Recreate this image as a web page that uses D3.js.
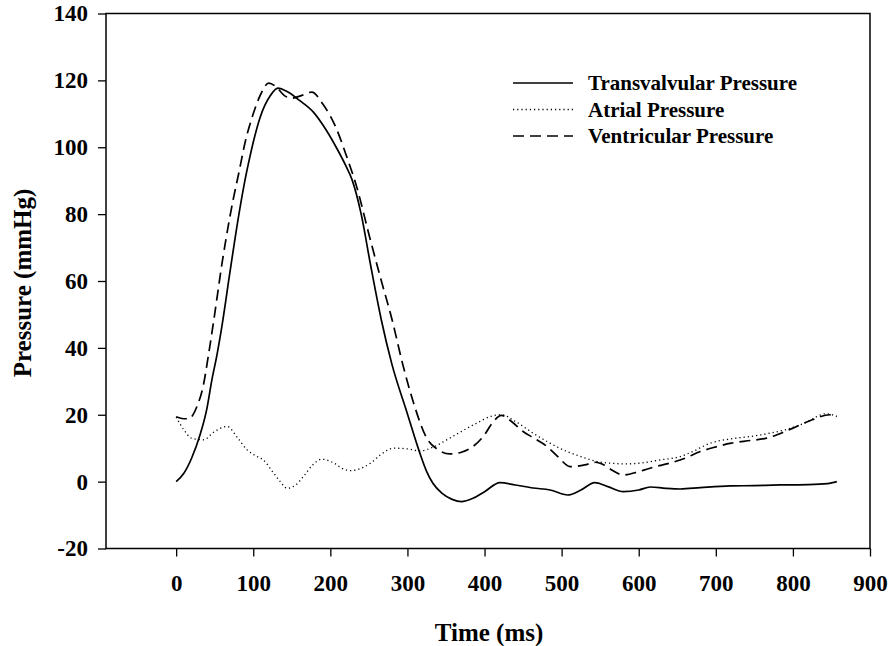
<!DOCTYPE html>
<html><head><meta charset="utf-8">
<script src="https://cdn.jsdelivr.net/npm/d3@7"></script>
<style>body{margin:0;background:#fff}svg{display:block}text{font-family:"Liberation Serif","Times New Roman",serif;font-weight:bold;fill:#000}</style>
</head><body><svg id="c" width="892" height="646"></svg>
<script>
// ---- data (time in ms, pressure in mmHg) ----
const transT = [0,10,20,31,40,46,53,59,70,80,90,96,100,109,122,132,145,160,178,195,209,220,228,240,252,266,280,299,316,325,333,345,358,370,385,400,420,440,463,485,508,525,543,560,580,600,615,635,654,680,718,750,783,820,845,857];
const transV = [0,2.5,7,14,22,30,38,46,63,78,91,97.5,101.5,109,115.4,117.7,116.5,114,110.5,105,99.4,94.5,90.4,80,65,48.5,35,21,8.6,3,-0.5,-3.5,-5.3,-6,-5,-3,-0.3,-1,-1.9,-2.5,-4,-2.5,-0.3,-1.5,-3,-2.5,-1.6,-2,-2.2,-1.8,-1.3,-1.2,-1,-0.9,-0.6,0];
const atrialT = [0,10,20,35,50,66,80,92,105,113,125,135,144,155,165,177,189,205,215,226,240,252,265,282,300,316,335,351,370,390,408,422,440,463,485,507,525,546,565,580,600,628,654,670,693,720,745,766,790,815,843,857];
const atrialV = [19.3,15.5,13,12.5,15,16.5,13,9.5,7.5,6.5,3,0,-2,-1,1.5,5,6.7,5.5,4,3.3,4,5.5,8,10,9.8,9.2,10.5,12.5,15,17.5,19.5,20,18,14.5,11.5,9,7.5,6,5.5,5.3,5.5,6.5,7.5,9,11.5,12.8,13.5,14.3,15.5,17.5,20.3,19.5];
const ventT = [0,10,16,27,35,42,48,60,74,81,90,100,110,120,130,140,150,163,176,190,208,220,235,250,265,280,294,308,325,340,355,370,385,400,410,422,435,450,464,481,495,511,530,544,555,565,580,600,619,640,660,680,697,720,745,766,790,805,825,848,857];
const ventV = [19.4,18.8,18.8,22.5,28.5,38,47,66,84.4,92,102,110,116,119.2,118,115.5,114.7,115.5,116.5,113,105.5,98,87.5,74,61,48.5,35,23.5,13,9.5,8.3,8.8,10.5,14,17.5,19.8,18,15,13,10.5,7.5,4.5,5,5.8,5,3.5,2,3,4.3,5.5,7,9,10.2,11.5,12.3,13,15,16.5,18.5,20,19.5];
const xTicks = [0,100,200,300,400,500,600,700,800,900];
const yTicks = [-20,0,20,40,60,80,100,120,140];
const seriesNames = ["Transvalvular Pressure","Atrial Pressure","Ventricular Pressure"];

// ---- layout ----
const svg = d3.select("#c");
const x = d3.scaleLinear().domain([-91, 900]).range([106, 870]);
const y = d3.scaleLinear().domain([-20, 140]).range([548.5, 13.5]);

const styles = [
  {dash: null},
  {dash: "1.2,3"},
  {dash: "11,6"}
];
const series = [
  {t: transT, v: transV},
  {t: atrialT, v: atrialV},
  {t: ventT, v: ventV}
];

// frame
svg.append("rect").attr("x", x(-91)).attr("y", y(140))
  .attr("width", x(900) - x(-91)).attr("height", y(-20) - y(140))
  .attr("fill", "none").attr("stroke", "#000").attr("stroke-width", 1.5);

// axes
const fmt = d => String(d);
const xAxis = svg.append("g").attr("transform", `translate(0,${y(-20)})`)
  .call(d3.axisBottom(x).tickValues(xTicks).tickSize(8).tickPadding(18).tickFormat(fmt));
const yAxis = svg.append("g").attr("transform", `translate(${x(-91)},0)`)
  .call(d3.axisLeft(y).tickValues(yTicks).tickSize(8).tickPadding(10).tickFormat(fmt));
[xAxis, yAxis].forEach(g => {
  g.select(".domain").remove();
  g.selectAll(".tick line").attr("stroke", "#000").attr("stroke-width", 1.3);
  g.selectAll(".tick text").style("font-size", "23px").style("font-family", '"Liberation Serif",serif').style("font-weight", "bold").attr("fill", "#000");
});

// lines
const line = d3.line().curve(d3.curveMonotoneX);
series.forEach((s, i) => {
  const pts = s.t.map((t, k) => [x(t), y(s.v[k])]);
  svg.append("path").attr("d", line(pts)).attr("fill", "none")
    .attr("stroke", "#000").attr("stroke-width", i === 1 ? 1.3 : 1.7)
    .attr("stroke-dasharray", styles[i].dash);
});

// legend
const lg = svg.append("g");
seriesNames.forEach((n, i) => {
  const yy = 83 + i * 26.5;
  lg.append("line").attr("x1", 513).attr("x2", 573).attr("y1", yy).attr("y2", yy)
    .attr("stroke", "#000").attr("stroke-width", i === 1 ? 1.3 : 1.7)
    .attr("stroke-dasharray", styles[i].dash);
  lg.append("text").attr("x", 588).attr("y", yy).attr("dy", "0.35em")
    .style("font-size", "21px").text(n);
});

// titles
svg.append("text").attr("x", 489).attr("y", 641).attr("text-anchor", "middle")
  .style("font-size", "25px").text("Time (ms)");
svg.append("text").attr("transform", "translate(31,283) rotate(-90)").attr("text-anchor", "middle")
  .style("font-size", "25px").text("Pressure (mmHg)");
</script></body></html>
